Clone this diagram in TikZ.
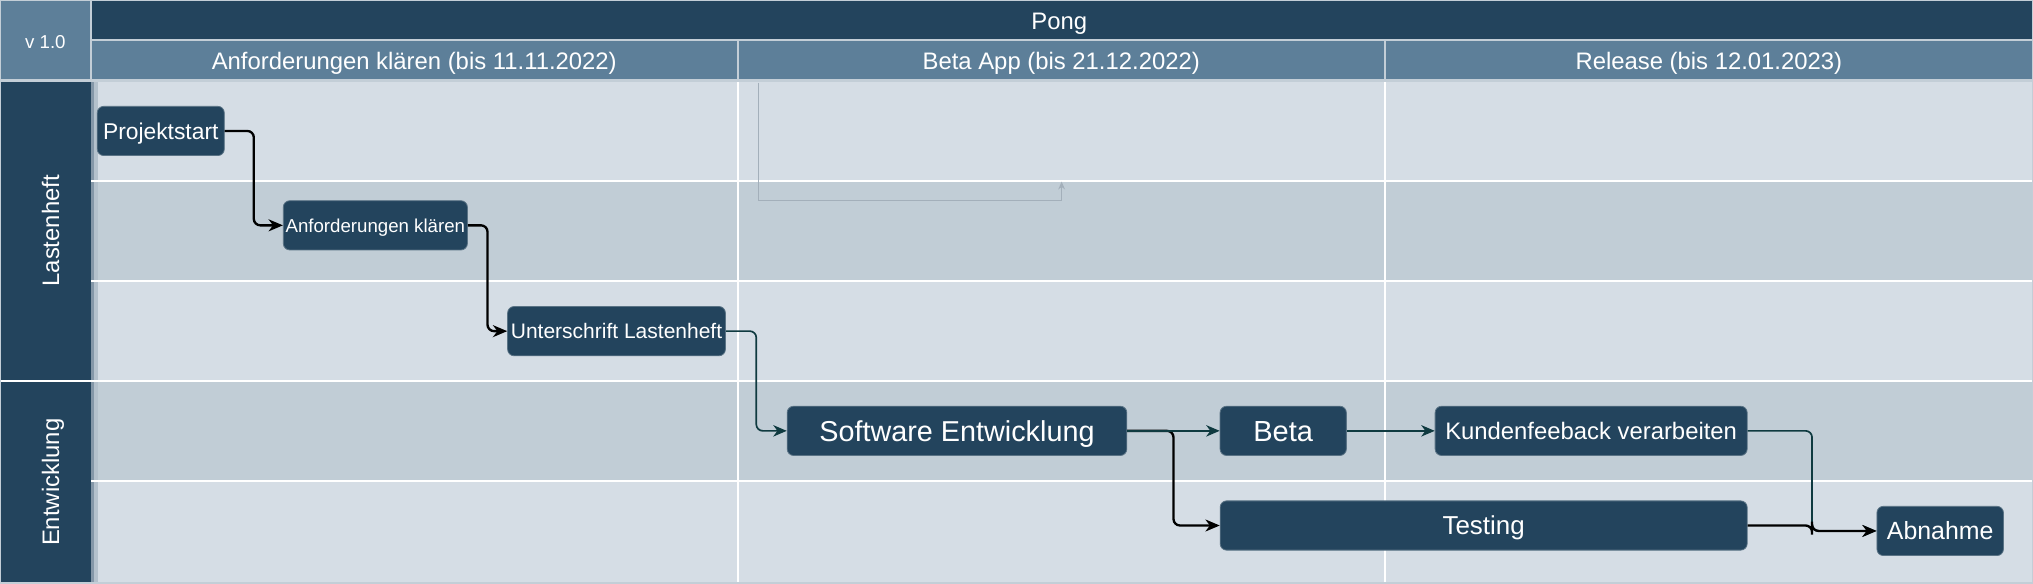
\documentclass[tikz,border=0pt]{standalone}
\usepackage{fontspec}
\setmainfont{Liberation Sans}
\usepackage{tikz}
\usetikzlibrary{shapes,arrows.meta,positioning,calc}

\definecolor{pongdark}{HTML}{23445D}
\definecolor{phaseblue}{HTML}{5D7F99}
\definecolor{rowlight}{HTML}{D5DDE5}
\definecolor{rowdark}{HTML}{C1CDD6}
\definecolor{gridline}{HTML}{C3CED7}
\definecolor{flowteal}{HTML}{0F3A40}
\definecolor{stripdark}{HTML}{8497A8}
\definecolor{striplight}{HTML}{B4C1CC}
\definecolor{ghost}{HTML}{A3AFBA}

\def\px{0.5pt}
\newcommand{\tsize}[1]{\fontsize{#1}{#1}\selectfont}

\tikzset{
  % font size with a text box as high as the capitals
  tsz/.code={\pgfmathsetmacro\capht{0.716*#1}%
    \edef\tmpopts{\noexpand\tikzset{text height=\capht pt,text depth=0pt}}\tmpopts
    \tikzset{font=\tsize{#1}}},
  task/.style={rectangle, rounded corners=2.5pt, fill=pongdark, draw=pongdark!75!white,
    line width=0.3pt, text=white, inner sep=0pt, minimum height=38*\px},
  head/.style={text=white, inner sep=0pt},
  flow/.style={draw=black, line width=0.9pt, rounded corners=2.5pt,
    -{Stealth[length=5.5pt,width=4.6pt,inset=1.7pt]}},
  flowt/.style={draw=flowteal, line width=0.65pt, rounded corners=2.5pt,
    -{Stealth[length=5.2pt,width=4.4pt,inset=1.6pt]}},
}

\begin{document}
\begin{tikzpicture}[x=0.5pt,y=-0.5pt]
            \useasboundingbox (0,0) rectangle (1568,449.7);
            % header cells
            \fill[phaseblue] (0,0) rectangle (70,62);
            \fill[pongdark] (70,0) rectangle (1568,31);
            \fill[phaseblue] (70,31) rectangle (1568,62);
            % lane label column
            \fill[pongdark] (0,62) rectangle (70,449.7);
            % rows of the lanes
            \foreach \ya/\yb/\c in {62/139.6/rowlight,139.6/216.5/rowdark,216.5/293.6/rowlight,293.6/370.7/rowdark,370.7/449.7/rowlight}
            \fill[\c] (70,\ya) rectangle (1568,\yb);
            \fill[stripdark] (70,62) rectangle (72.7,449.7);
            \fill[striplight] (72.7,62) rectangle (75.8,449.7);
            % white separators
            \foreach \y in {139.6,216.5,370.7}
            \draw[white,line width=0.75pt] (70,\y) -- (1568,\y);
            \draw[white,line width=0.75pt] (0,293.6) -- (1568,293.6);
            \foreach \x in {569,1068}
            \draw[white,line width=0.85pt] (\x,62) -- (\x,449.7);
            % header grid
            \draw[gridline,line width=0.9pt] (0,0) rectangle (1568,449.7);
            \draw[gridline,line width=0.9pt] (70,31) -- (1568,31) (0,62) -- (1568,62) (70,0) -- (70,62);
            \foreach \x in {569,1068}
            \draw[gridline,line width=0.9pt] (\x,31) -- (\x,62);

            % header texts
            \node[head,tsz=7.2] (version) at (35,31.9) {v 1.0};
            \node[head,tsz=9.2] (pong) at (817,16.3) {Pong};
            \node[head,tsz=9.2] (phasea) at (319.5,47.3) {Anforderungen klären (bis 11.11.2022)};
            \node[head,tsz=9.2] (phaseb) at (818.5,47.3) {Beta App (bis 21.12.2022)};
            \node[head,tsz=9.2] (phasec) at (1318,47.3) {Release (bis 12.01.2023)};
            \node[head,tsz=9.2,rotate=90] (lanea) at (39,178) {Lastenheft};
            \node[head,tsz=9.2,rotate=90] (laneb) at (39,372) {Entwicklung};

            % faint left-over connector
            \coordinate (ghosta) at (584.9,63.8);
            \coordinate (ghostb) at (818.8,140.1);
            \draw[ghost,line width=0.6pt,-{Stealth[length=3pt,width=2.6pt]}] (ghosta) -- ++(0,91) -| (ghostb);

            % tasks
            \node[task,minimum width=98*\px,tsz=8.8] (proj) at (124,101) {Projektstart};
            \node[task,minimum width=142*\px,tsz=7.2] (anf) at (289.5,173.8) {Anforderungen klären};
            \node[task,minimum width=168*\px,tsz=8.1] (unt) at (475.5,255.4) {Unterschrift Lastenheft};
            \node[task,minimum width=262*\px,tsz=11.1] (sw) at (738.1,332.3) {Software Entwicklung};
            \node[task,minimum width=97.4*\px,tsz=11.2] (beta) at (989.7,332.3) {Beta};
            \node[task,minimum width=240.7*\px,tsz=9.2] (kund) at (1227.2,332.3) {Kundenfeeback verarbeiten};
            \node[task,minimum width=406.5*\px,tsz=10] (test) at (1144.3,405.3) {Testing};
            \node[task,minimum width=97.6*\px,tsz=9.6] (abn) at (1496.4,409.5) {Abnahme};

            % connectors
            \draw[flow] (proj.east) -| ($(proj.east)!.5!(anf.west)$) |- (anf.west);
            \draw[flow] (anf.east) -| ($(anf.east)!.5!(unt.west)$) |- (unt.west);
            \draw[flowt] (unt.east) -| ($(unt.east)!.5!(sw.west)$) |- (sw.west);
            \draw[flow] (sw.east) -| ($(sw.east)!.5!(test.west)$) |- (test.west);
            \draw[flowt] (sw.east) -- (beta.west);
            \draw[flowt] (beta.east) -- (kund.west);
            \draw[flowt] (kund.east) -| ($(kund.east)!.5!(abn.west)$) |- (abn.west);
            \draw[flow] (test.east) -| ($(test.east)!.5!(abn.west)$) |- (abn.west);
\end{tikzpicture}
\end{document}
